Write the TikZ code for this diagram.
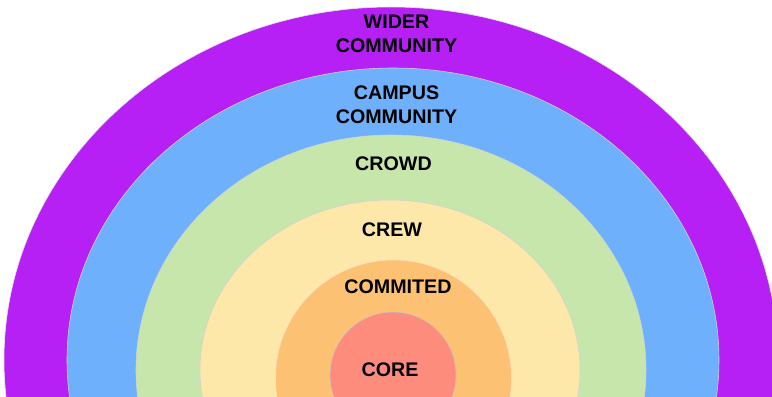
\documentclass[tikz,border=0pt]{standalone}
\usepackage{fontspec}
\setmainfont{Liberation Sans}
\usepackage{tikz}
\tikzset{ring/.style={draw=gray!35,line width=0.4pt},
	ring label/.style={font=\bfseries\fontsize{14}{17}\selectfont,align=center,inner sep=0pt},
}
\definecolor{widerc}{HTML}{B720F5}
\definecolor{campusc}{HTML}{6FB0FD}
\definecolor{crowdc}{HTML}{C6E6AB}
\definecolor{crewc}{HTML}{FDE8A9}
\definecolor{commitc}{HTML}{FDC174}
\definecolor{corec}{HTML}{FD8C7D}

\begin{document}
\begin{tikzpicture}[x=0.025cm,y=0.025cm]
	\useasboundingbox (0,0) rectangle (772,396);
	\clip (0,0) rectangle (772,396);

	%% rings, outside in
	\fill[widerc,draw=gray!20] (391,36) ellipse [x radius=387,y radius=353];
	\path[ring,fill=campusc] (393,36) ellipse [x radius=326,y radius=292];
	\path[ring,fill=crowdc] (391,26) ellipse [x radius=255,y radius=235];
	\path[ring,fill=crewc] (390,26) ellipse [x radius=190,y radius=170];
	\path[ring,fill=commitc,draw=orange!25] (393.5,18) ellipse [x radius=118,y radius=118];
	\path[ring,fill=corec,draw=gray!45] (393,21) ellipse [x radius=63,y radius=63];

	%% labels
	\node[ring label] (wider) at (396.5,362.5) {WIDER\\COMMUNITY};
	\node[ring label] (campus) at (396.5,291) {CAMPUS\\COMMUNITY};
	\node[ring label] (crowd) at (393.5,232.5) {CROWD};
	\node[ring label] (crew) at (392,166) {CREW};
	\node[ring label] (commited) at (398,109) {COMMITED};
	\node[ring label] (core) at (390,26) {CORE};
\end{tikzpicture}
\end{document}
